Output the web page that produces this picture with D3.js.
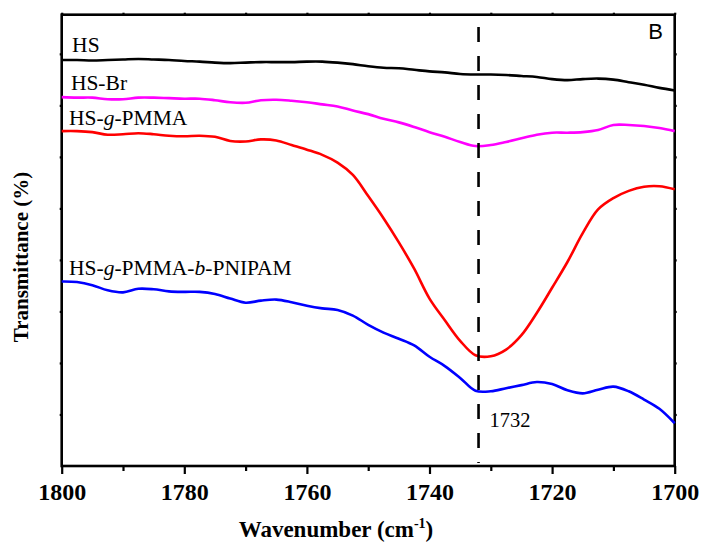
<!DOCTYPE html>
<html>
<head>
<meta charset="utf-8">
<script src="https://cdn.jsdelivr.net/npm/d3@7"></script>
<style>
  body { margin: 0; background: #fff; }
  text { font-family: "Liberation Serif", "Times New Roman", serif; }
</style>
</head>
<body>
<div id="ftir"></div>
<script>
// wavenumbers (cm-1), one reading every 2.5
var wavenumbers = d3.range(0, 41).map(function (i) { return 1800 - i * 2.5; });

// transmittance, arbitrary units (curves offset for display)
var hs = [78.8, 78.8, 78.7, 78.8, 78.9, 79.0, 78.9, 78.8, 78.6, 78.5,
  78.3, 78.2, 78.3, 78.4, 78.4, 78.4, 78.5, 78.5, 78.3, 78.0,
  77.6, 77.3, 77.2, 76.9, 76.6, 76.4, 76.1, 76.0, 76.0, 75.9,
  75.7, 75.5, 75.1, 74.9, 75.1, 75.2, 75.0, 74.5, 74.0, 73.4, 72.9];
var hsBr = [71.6, 71.5, 71.5, 71.2, 71.2, 71.5, 71.5, 71.4, 71.3, 71.3,
  71.0, 70.6, 70.5, 71.0, 71.1, 70.9, 70.6, 70.2, 69.8, 69.0,
  68.3, 67.4, 66.7, 65.8, 64.8, 63.9, 62.9, 62.1, 62.3, 62.9,
  63.6, 64.3, 64.7, 64.7, 64.8, 65.2, 66.2, 66.2, 66.0, 65.6, 65.0];
var hsPMMA = [65.0, 65.0, 64.8, 64.3, 64.4, 64.6, 64.4, 64.1, 64.0, 64.1,
  63.9, 63.1, 63.0, 63.4, 63.2, 62.3, 61.4, 60.4, 58.9, 56.5,
  52.4, 48.1, 43.4, 38.3, 32.5, 28.3, 24.3, 21.5, 21.3, 22.6,
  25.4, 29.7, 34.6, 39.6, 45.2, 49.8, 52.0, 53.4, 54.2, 54.3, 53.7];
var hsPNIPAM = [35.8, 35.7, 35.1, 34.1, 33.7, 34.4, 34.3, 33.9, 33.8, 33.8,
  33.4, 32.5, 31.7, 32.1, 32.3, 31.8, 31.1, 30.6, 30.3, 29.2,
  27.4, 25.9, 24.7, 23.4, 21.2, 19.4, 17.1, 14.6, 14.5, 15.1,
  15.7, 16.3, 15.9, 14.7, 14.1, 14.8, 15.4, 14.5, 12.9, 11.1, 8.3];

var seriesNames = ["HS", "HS-Br", "HS-g-PMMA", "HS-g-PMMA-b-PNIPAM"];
var seriesColors = ["#000000", "#ff00ff", "#ff0000", "#0000ff"];
var seriesValues = [hs, hsBr, hsPMMA, hsPNIPAM];
// where each name sits: [wavenumber, transmittance]
var labelSpots = [[1798.3, 80.4], [1798.5, 73.0], [1798.8, 66.2], [1798.8, 37.1]];

var majorTicks = [1800, 1780, 1760, 1740, 1720, 1700];
var minorTicks = [1790, 1770, 1750, 1730, 1710];
var yTicks = [10, 20, 30, 40, 50, 60, 70, 80];
var peak = 1732;

// set the dimensions and margins of the graph
var margin = { top: 14.7, right: 27.3, bottom: 79, left: 61.7 },
  width = 702 - margin.left - margin.right,
  height = 545 - margin.top - margin.bottom;

var svg = d3.select("#ftir")
  .append("svg")
  .attr("width", 702)
  .attr("height", 545)
  .append("g")
  .attr("transform", "translate(" + margin.left + "," + margin.top + ")");

var x = d3.scaleLinear().domain([1800, 1700]).range([0, width]);
var y = d3.scaleLinear().domain([0, 87.6]).range([height, 0]);

// bottom axis with labels
var xAxis = svg.append("g")
  .attr("transform", "translate(0," + height + ")")
  .call(d3.axisBottom(x).tickValues(majorTicks).tickSize(8).tickPadding(9)
    .tickFormat(d3.format("d")));
xAxis.selectAll("text")
  .style("font-family", "Liberation Serif")
  .style("font-weight", "bold")
  .style("font-size", "24px")
  .attr("fill", "#000");
svg.append("g")
  .attr("transform", "translate(0," + height + ")")
  .call(d3.axisBottom(x).tickValues(minorTicks).tickSize(5).tickFormat(""));

// small marks on the other three sides
svg.append("g")
  .call(d3.axisTop(x).tickValues(majorTicks.concat(minorTicks)).tickSize(2).tickFormat(""));
svg.append("g")
  .call(d3.axisLeft(y).tickValues(yTicks).tickSize(2).tickFormat(""));
svg.append("g")
  .attr("transform", "translate(" + width + ",0)")
  .call(d3.axisRight(y).tickValues(yTicks).tickSize(2).tickFormat(""));

svg.selectAll(".domain").remove();
svg.selectAll(".tick line").attr("stroke", "#000").attr("stroke-width", 2.2);

// frame
svg.append("rect")
  .attr("width", width)
  .attr("height", height)
  .attr("fill", "none")
  .attr("stroke", "#000")
  .attr("stroke-width", 2.6);

// the spectra
var line = d3.line()
  .x(function (d) { return x(d[0]); })
  .y(function (d) { return y(d[1]); })
  .curve(d3.curveCatmullRom);

seriesValues.forEach(function (vals, i) {
  svg.append("path")
    .datum(wavenumbers.map(function (w, j) { return [w, vals[j]]; }))
    .attr("fill", "none")
    .attr("stroke", seriesColors[i])
    .attr("stroke-width", 2.6)
    .attr("d", line);
});

// dashed marker at 1732
svg.append("line")
  .attr("x1", x(peak)).attr("x2", x(peak))
  .attr("y1", y(85.2)).attr("y2", y(0.6))
  .attr("stroke", "#000")
  .attr("stroke-width", 2.6)
  .attr("stroke-dasharray", "15,14");

svg.append("text")
  .attr("x", x(1730.2))
  .attr("y", y(7.6))
  .style("font-size", "20.5px")
  .text(String(peak));

// series names, with the italic g and b
seriesNames.forEach(function (name, i) {
  var t = svg.append("text")
    .attr("x", x(labelSpots[i][0]))
    .attr("y", y(labelSpots[i][1]))
    .style("font-size", "21.5px");
  name.split("-").forEach(function (part, k) {
    if (k > 0) t.append("tspan").text("-");
    t.append("tspan")
      .style("font-style", (part === "g" || part === "b") ? "italic" : "normal")
      .text(part);
  });
});

svg.append("text")
  .attr("x", x(1701.9))
  .attr("y", y(82.8))
  .attr("text-anchor", "end")
  .style("font-family", "Liberation Sans")
  .style("font-size", "22px")
  .text("B");

// axis titles
var xTitle = svg.append("text")
  .attr("x", 336 - margin.left)
  .attr("y", 537 - margin.top)
  .attr("text-anchor", "middle")
  .style("font-weight", "bold")
  .style("font-size", "23px");
xTitle.append("tspan").text("Wavenumber (cm");
xTitle.append("tspan").attr("dy", -9).style("font-size", "14px").text("-1");
xTitle.append("tspan").attr("dy", 9).text(")");

svg.append("text")
  .attr("transform", "translate(" + (28 - margin.left) + "," + (257 - margin.top) + ") rotate(-90)")
  .attr("text-anchor", "middle")
  .style("font-weight", "bold")
  .style("font-size", "21px")
  .text("Transmittance (%)");
</script>
</body>
</html>
